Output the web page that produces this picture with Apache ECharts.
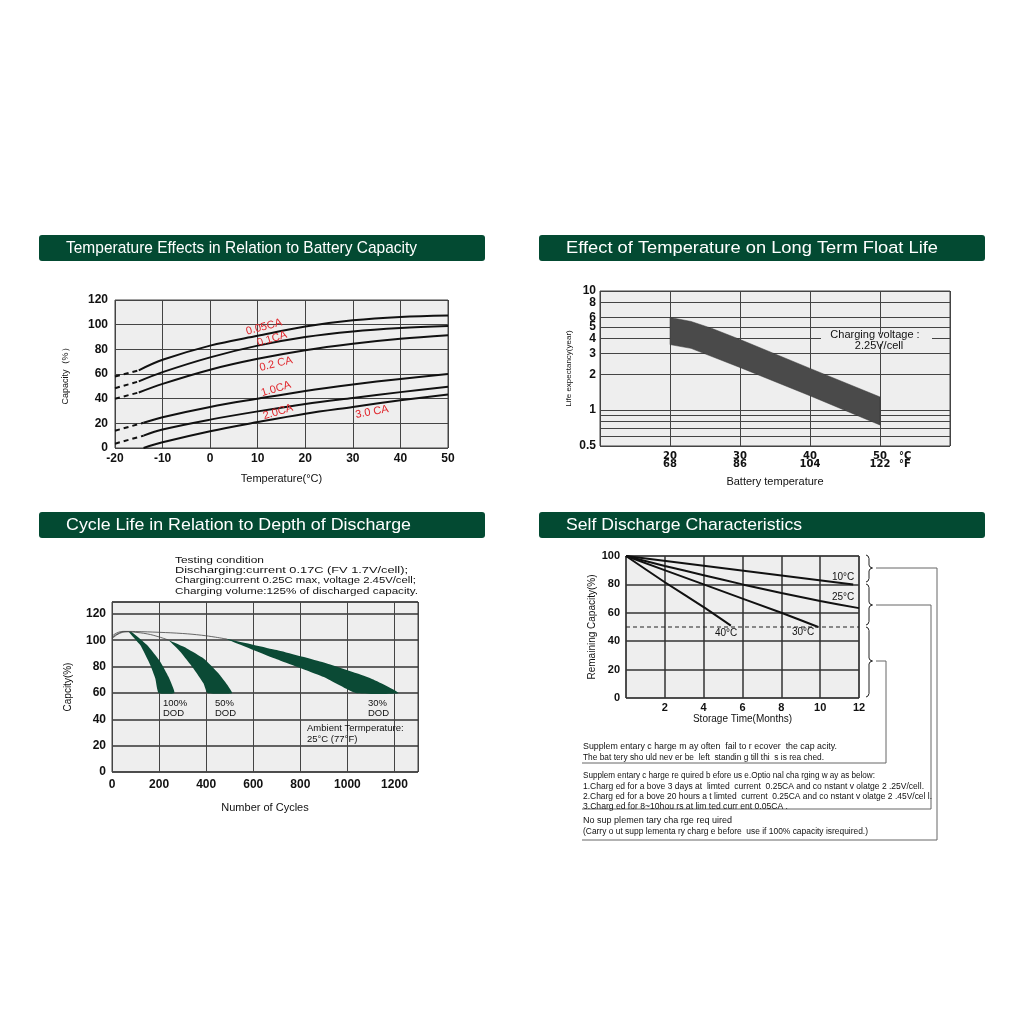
<!DOCTYPE html>
<html><head><meta charset="utf-8">
<script src="https://cdn.jsdelivr.net/npm/echarts@6/dist/echarts.min.js"></script>
<style>html,body{margin:0;padding:0;background:#fff}#c{width:1024px;height:1024px}</style>
</head><body><div id="c"></div>
<script>
// ---------- Panel 1: Temperature vs capacity ----------
const p1Ticks = [-20, -10, 0, 10, 20, 30, 40, 50];
const cap005Dash = [[-20, 58], [-15, 63]];
const cap005 = [[-15, 63], [-10, 71.5], [0, 83], [10, 91], [20, 98.5], [30, 103.5], [40, 106.3], [50, 107.5]];
const cap01Dash = [[-20, 48.5], [-15, 54]];
const cap01 = [[-15, 54], [-10, 61.5], [0, 73.5], [10, 83], [20, 90], [30, 94.5], [40, 97.3], [50, 99]];
const cap02Dash = [[-20, 40], [-15, 45]];
const cap02 = [[-15, 45], [-10, 52], [0, 63.5], [10, 72.3], [20, 79.3], [30, 84.5], [40, 88.5], [50, 91.4]];
const cap10Dash = [[-20, 14], [-14, 20.5]];
const cap10 = [[-14, 20.5], [-10, 25], [0, 33.3], [10, 40], [20, 46.3], [30, 51.5], [40, 56], [50, 60]];
const cap20Dash = [[-20, 3.5], [-14, 10]];
const cap20 = [[-14, 10], [-10, 15], [0, 23], [10, 29.7], [20, 35.7], [30, 40.6], [40, 45.3], [50, 49.6]];
const cap30 = [[-14, 0], [-10, 4.6], [0, 13.6], [10, 21], [20, 27.8], [30, 33.3], [40, 38.7], [50, 43.4]];
const p1Labels = ['0.05CA', '0.1CA', '0.2 CA', '1.0CA', '2.0CA', '3.0 CA'];

// ---------- Panel 2: float life (log) ----------
const lifeTempC = [20, 30, 40, 50];
const lifeTempF = [68, 86, 104, 122];
const lifeYLabels = [0.5, 1, 2, 3, 4, 5, 6, 8, 10];
const lifeYLines = [0.5, 0.6, 0.7, 0.8, 0.9, 1, 2, 3, 4, 5, 6, 8, 10];
const lifeUpper = [[20, 6.0], [23, 5.55], [26, 4.85], [30, 3.92], [40, 2.24], [50, 1.29]];
const lifeLower = [[20, 3.55], [23, 3.3], [30, 2.28], [40, 1.32], [50, 0.75]];

// ---------- Panel 3: cycle life ----------
const dod100Left = [[71, 106.5], [120, 96.3], [163, 81], [184, 71], [198, 60]];
const dod100Right = [[85, 106], [149, 96.3], [205, 83.7], [240, 72.2], [265, 60]];
const dod50Left = [[240, 100.1], [290, 91.3], [346, 78.6], [389, 67.2], [406, 60]];
const dod50Right = [[240, 100.1], [318, 93.8], [389, 86.2], [453, 74.8], [510, 60]];
const dod30Upper = [[490, 101], [700, 92.5], [900, 83], [1100, 71], [1217, 60]];
const dod30Lower = [[490, 100.5], [700, 85.5], [900, 72], [1035, 60]];
const thin100 = [[0, 101], [20, 104], [45, 106], [72, 106.5]];
const thin50 = [[0, 102], [25, 105], [55, 106.5], [90, 106.2], [150, 104.8], [200, 102.5], [240, 100.1]];
const thin30 = [[0, 103], [20, 105.5], [50, 106.7], [100, 106.6], [200, 106], [300, 105.1], [380, 103.8], [440, 102.3], [490, 100.8]];
const testLines = ['Testing condition', 'Discharging:current 0.17C (FV 1.7V/cell);', 'Charging:current 0.25C max, voltage 2.45V/cell;', 'Charging volume:125% of discharged capacity.'];

// ---------- Panel 4: self discharge ----------
const sd10 = [[0, 100], [11.7, 80]];
const sd25 = [[0, 100], [2, 93], [4, 86.5], [6, 80], [8, 74], [10, 68.3], [12, 63.3]];
const sd30 = [[0, 100], [4, 80], [8, 60], [9.9, 50]];
const sd40 = [[0, 100], [2, 81.5], [4, 64], [5.4, 51]];
const sdLimit = [[0, 50], [12, 50]];
const note1 = ['Supplem entary c harge m ay often  fail to r ecover  the cap acity.', 'The bat tery sho uld nev er be  left  standin g till thi  s is rea ched.'];
const note2 = ['Supplem entary c harge re quired b efore us e.Optio nal cha rging w ay as below:', '1.Charg ed for a bove 3 days at  limted  current  0.25CA and co nstant v olatge 2 .25V/cell.', '2.Charg ed for a bove 20 hours a t limted  current  0.25CA and co nstant v olatge 2 .45V/cel l.', '3.Charg ed for 8~10hou rs at lim ted curr ent 0.05CA .'];
const note3 = ['No sup plemen tary cha rge req uired', '(Carry o ut supp lementa ry charg e before  use if 100% capacity isrequired.)'];

const F = "'Liberation Sans', Arial, sans-serif";
const GREEN = '#034a32';
const GRIDBG = '#eeeeee';
const SPL = { lineStyle: { color: '#444', width: 1 } };
const lab = (extra) => Object.assign({ fontFamily: F, fontSize: 12, fontWeight: 'bold', color: '#111' }, extra || {});
const nameStyle = (size) => ({ fontFamily: F, fontSize: size, color: '#111' });

const mctx = document.createElement('canvas').getContext('2d');
function fitScale(text, font, target) { mctx.font = font; const w = mctx.measureText(text).width; return w > 0 ? target / w : 1; }

function line(xi, data, opt) {
  return Object.assign({ type: 'line', xAxisIndex: xi, yAxisIndex: xi, data: data, symbol: 'none', silent: true,
    lineStyle: { color: '#111', width: 2 } }, opt || {});
}

const series = [];
// panel 1
[cap005Dash, cap01Dash, cap02Dash, cap10Dash, cap20Dash].forEach(d => series.push(line(0, d, { lineStyle: { color: '#111', width: 2, type: [5, 4] } })));
[cap005, cap01, cap02, cap10, cap20, cap30].forEach(d => series.push(line(0, d, { smooth: 0.35 })));
// panel 2
series.push({ type: 'custom', xAxisIndex: 1, yAxisIndex: 1, data: [[20, 3]], silent: true,
  renderItem: (params, api) => {
    const pts = lifeUpper.map(p => api.coord(p)).concat(lifeLower.slice().reverse().map(p => api.coord(p)));
    return { type: 'polygon', shape: { points: pts }, style: { fill: '#4a4a4a', stroke: '#333', lineWidth: 0.5 } };
  } });
// panel 3
const bands = [[dod100Left, dod100Right], [dod50Left, dod50Right], [dod30Upper, dod30Lower]];
[thin100, thin50, thin30].forEach(d => series.push(line(2, d, { smooth: 0.4, lineStyle: { color: '#444', width: 0.8 } })));
series.push({ type: 'custom', xAxisIndex: 2, yAxisIndex: 2, data: [[150, 80], [350, 80], [800, 80]], silent: true,
  renderItem: (params, api) => {
    const b = bands[params.dataIndex];
    const pts = b[0].map(p => api.coord(p)).concat(b[1].slice().reverse().map(p => api.coord(p)));
    return { type: 'polygon', shape: { points: pts, smooth: 0.15 }, style: { fill: '#0b4a35' } };
  } });
// panel 4
[sd10, sd25, sd30, sd40].forEach(d => series.push(line(3, d, { smooth: 0.2, lineStyle: { color: '#111', width: 2 } })));
series.push(line(3, sdLimit, { lineStyle: { color: '#222', width: 1, type: [4, 3] } }));

// graphics
const g = [];
function header(x, y, text, target) {
  const font = '17px ' + F;
  g.push({ type: 'rect', shape: { x: x, y: y, width: 446, height: 26, r: 3 }, style: { fill: GREEN }, z: 100 });
  g.push({ type: 'text', x: x + 27, y: y + 13, scaleX: fitScale(text, font, target), scaleY: 1,
    style: { text: text, fill: '#fff', font: font, verticalAlign: 'middle' }, z: 101 });
}
header(39, 235, 'Temperature Effects in Relation to Battery Capacity', 351);
header(539, 235, 'Effect of Temperature on Long Term Float Life', 372);
header(39, 512, 'Cycle Life in Relation to Depth of Discharge', 345);
header(539, 512, 'Self Discharge Characteristics', 236);

function txt(x, y, text, size, opt) {
  opt = opt || {};
  const font = (opt.weight ? opt.weight + ' ' : '') + size + 'px ' + (opt.family || F);
  const el = { type: 'text', x: x, y: y, rotation: opt.rot || 0,
    style: Object.assign({ text: text, fill: '#111', font: font, verticalAlign: 'middle', align: 'left' }, opt.style || {}), z: 102 };
  if (opt.width) { el.scaleX = fitScale(text, font, opt.width); el.scaleY = 1; }
  g.push(el);
}
// panel 1 curve labels (red)
const p1Pos = [[264, 327, 15], [272, 339, 17], [276, 364, 14], [276, 389, 17], [278, 412, 17], [372, 412, 10]];
p1Labels.forEach((t, i) => txt(p1Pos[i][0], p1Pos[i][1], t, 11, { rot: p1Pos[i][2] * Math.PI / 180, style: { fill: '#e0262c', align: 'center' } }));
// panel 2 annotation
g.push({ type: 'rect', shape: { x: 821, y: 334, width: 111, height: 10 }, style: { fill: GRIDBG }, z: 101 });
txt(875, 335, 'Charging voltage :', 11, { style: { align: 'center' } });
txt(879, 346, '2.25V/cell', 11, { style: { align: 'center' } });
txt(899, 456, '°C', 10, { family: "'DejaVu Sans', sans-serif", weight: 'bold' });
txt(899, 464, '°F', 10, { family: "'DejaVu Sans', sans-serif", weight: 'bold' });
// panel 3 text
const testW = [89, 233, 241, 243];
testLines.forEach((t, i) => txt(175, 560 + i * 10.4, t, 9.5, { width: testW[i] }));
txt(163, 703, '100%', 9.5); txt(163, 713, 'DOD', 9.5);
txt(215, 703, '50%', 9.5); txt(215, 713, 'DOD', 9.5);
txt(368, 703, '30%', 9.5); txt(368, 713, 'DOD', 9.5);
txt(307, 728, 'Ambient Termperature:', 9.5);
txt(307, 739, '25°C (77°F)', 9.5);
// panel 4 labels
txt(832, 577, '10°C', 10); txt(832, 597, '25°C', 10); txt(792, 632, '30°C', 10); txt(715, 633, '40°C', 10);
// braces
function brace(x0, y1, y2, ym) {
  const pts = [[x0, y1], [x0 + 2, y1 + 1], [x0 + 3, y1 + 3.5], [x0 + 3, ym - 3], [x0 + 4, ym - 1], [x0 + 6.5, ym], [x0 + 4, ym + 1], [x0 + 3, ym + 3], [x0 + 3, y2 - 3.5], [x0 + 2, y2 - 1], [x0, y2]];
  g.push({ type: 'polyline', shape: { points: pts }, style: { stroke: '#222', lineWidth: 1, fill: null }, z: 102 });
}
brace(866, 555, 582, 568);
brace(866, 584, 625, 605);
brace(866, 627, 697, 661);
function poly(pts) { g.push({ type: 'polyline', shape: { points: pts }, style: { stroke: '#666', lineWidth: 1, fill: null }, z: 102 }); }
poly([[876, 568], [937, 568], [937, 840], [582, 840]]);
poly([[876, 605], [931, 605], [931, 809], [582, 809]]);
poly([[876, 661], [886, 661], [886, 763], [582, 763]]);
const n1W = [254, 241], n2W = [292, 341, 349, 205], n3W = [149, 285];
note1.forEach((t, i) => txt(583, 747 + i * 10.3, t, 8.5, { width: n1W[i] }));
note2.forEach((t, i) => txt(583, 776 + i * 10.3, t, 8.5, { width: n2W[i] }));
note3.forEach((t, i) => txt(583, 821 + i * 10.3, t, 8.5, { width: n3W[i] }));

const lifeAxisTop = lifeYLabels[lifeYLabels.length - 1];
const option = {
  animation: false,
  backgroundColor: '#fff',
  grid: [
    { left: 115, top: 300, width: 333, height: 148, show: true, backgroundColor: GRIDBG, borderColor: '#444', borderWidth: 1 },
    { left: 600, top: 291, width: 350, height: 155, show: true, backgroundColor: GRIDBG, borderColor: '#444', borderWidth: 1 },
    { left: 112, top: 602, width: 306, height: 170, show: true, backgroundColor: GRIDBG, borderColor: '#444', borderWidth: 1 },
    { left: 626, top: 556, width: 233, height: 142, show: true, backgroundColor: GRIDBG, borderColor: '#444', borderWidth: 1 }
  ],
  xAxis: [
    { gridIndex: 0, type: 'value', min: -20, max: 50, interval: 10, axisLine: { show: false }, axisTick: { show: false }, splitLine: SPL,
      axisLabel: lab({ margin: 5 }), name: 'Temperature(°C)', nameLocation: 'middle', nameGap: 25, nameTextStyle: nameStyle(11) },
    { gridIndex: 1, type: 'value', min: 10, max: 60, interval: 10, axisLine: { show: false }, axisTick: { show: false }, splitLine: SPL,
      axisLabel: lab({ fontFamily: "'DejaVu Sans', sans-serif", fontSize: 10, margin: 6, lineHeight: 8, formatter: v => { const i = lifeTempC.indexOf(v); return i < 0 ? '' : lifeTempC[i] + '\n' + lifeTempF[i]; } }),
      name: 'Battery temperature', nameLocation: 'middle', nameGap: 30, nameTextStyle: nameStyle(11) },
    { gridIndex: 2, type: 'value', min: 0, max: 1300, interval: 200, axisLine: { show: false }, axisTick: { show: false }, splitLine: SPL,
      axisLabel: lab({ margin: 7, showMaxLabel: false, formatter: v => String(v) }), name: 'Number of Cycles', nameLocation: 'middle', nameGap: 30, nameTextStyle: nameStyle(11) },
    { gridIndex: 3, type: 'value', min: 0, max: 12, interval: 2, axisLine: { show: false }, axisTick: { show: false }, splitLine: { lineStyle: { color: '#333', width: 1.5 } },
      axisLabel: lab({ fontSize: 11, margin: 4, formatter: v => v === 0 ? '' : String(v) }), name: 'Storage Time(Months)', nameLocation: 'middle', nameGap: 16, nameTextStyle: nameStyle(10) }
  ],
  yAxis: [
    { gridIndex: 0, type: 'value', min: 0, max: 120, interval: 20, axisLine: { show: false }, axisTick: { show: false }, splitLine: SPL,
      axisLabel: lab({ margin: 7 }), name: 'Capacity（%）', nameLocation: 'middle', nameGap: 45, nameRotate: 90, nameTextStyle: nameStyle(9) },
    { gridIndex: 1, type: 'log', logBase: 10, min: 0.5, max: lifeAxisTop, axisLine: { show: false },
      axisTick: { show: false, customValues: lifeYLines }, splitLine: SPL,
      axisLabel: lab({ margin: 4, customValues: lifeYLabels.filter(v => v < lifeAxisTop), showMaxLabel: true, showMinLabel: true, hideOverlap: false, formatter: v => String(Math.round(v * 10) / 10) }),
      name: 'Life expectancy(year)', nameLocation: 'middle', nameGap: 27, nameRotate: 90, nameTextStyle: nameStyle(8) },
    { gridIndex: 2, type: 'value', min: 0, max: 129, interval: 20, axisLine: { show: false }, axisTick: { show: false }, splitLine: { lineStyle: { color: '#333', width: 1.5 } },
      axisLabel: lab({ margin: 6, showMaxLabel: false }), name: 'Capcity(%)', nameLocation: 'middle', nameGap: 39, nameRotate: 90, nameTextStyle: nameStyle(10) },
    { gridIndex: 3, type: 'value', min: 0, max: 100, interval: 20, axisLine: { show: false }, axisTick: { show: false }, splitLine: { lineStyle: { color: '#333', width: 1.5 } },
      axisLabel: lab({ fontSize: 11, margin: 6 }), name: 'Remaining Capacity(%)', nameLocation: 'middle', nameGap: 28, nameRotate: 90, nameTextStyle: nameStyle(10) }
  ],
  series: series,
  graphic: g
};
const chart = echarts.init(document.getElementById('c'), null, { renderer: 'canvas' });
chart.setOption(option);
// top label of the log axis, placed through the axis scale
const topY = chart.convertToPixel({ yAxisIndex: 1 }, lifeAxisTop);
const topX = chart.convertToPixel({ xAxisIndex: 1 }, 10) - 4;
g.push({ type: 'text', x: topX, y: topY, style: { text: String(lifeAxisTop), fill: '#111', font: 'bold 12px ' + F, align: 'right', verticalAlign: 'middle' }, z: 102 });
chart.setOption({ graphic: g });
</script></body></html>
